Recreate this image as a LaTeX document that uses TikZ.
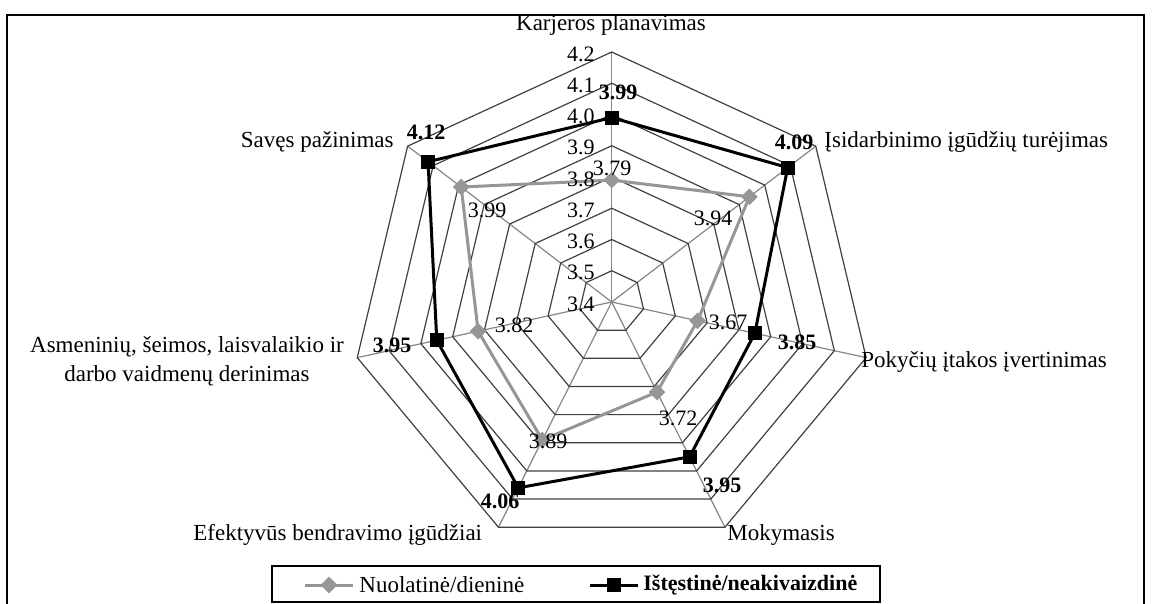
\documentclass[tikz,border=0pt]{standalone}
\usepackage{fontspec}
\setmainfont{Liberation Serif}
\usetikzlibrary{shapes.geometric}
\definecolor{sergray}{RGB}{150,150,150}
\definecolor{ringcol}{RGB}{64,64,64}
\definecolor{spokecol}{RGB}{134,134,134}

\begin{document}
\begin{tikzpicture}[x=0.5pt,y=-0.5pt]
  \tikzset{
    ringline/.style={draw=ringcol,line width=0.6pt},
    spokeline/.style={draw=spokecol,line width=0.6pt},
    grayser/.style={draw=sergray,line width=1.5pt,line join=round},
    blackser/.style={draw=black,line width=1.5pt,line join=round},
    graymark/.style={diamond,fill=sergray,inner sep=0pt,minimum size=8.5pt},
    blackmark/.style={rectangle,fill=black,inner sep=0pt,minimum size=7pt},
    catlab/.style={font=\fontsize{11.5}{14.5}\selectfont,inner sep=0pt},
    ticklab/.style={font=\fontsize{11}{13}\selectfont,inner sep=0pt,anchor=east},
    glab/.style={font=\fontsize{11}{13}\selectfont,inner sep=0pt},
    blab/.style={font=\fontsize{11}{13}\selectfont\bfseries,inner sep=0pt},
  }
  \useasboundingbox (0,0) rectangle (1152,604);
  \draw[line width=1pt] (7,604) -- (7,15) -- (1144,15) -- (1144,604);

  % radar grid and series
  \begin{scope}[shift={(611.7,302)},x=130.5pt,y=125pt]
    \foreach \a [count=\i] in {90,38.571,-12.857,-64.286,-115.714,-167.143,141.429}
      \draw[spokeline] (0,0) -- (\a:1) coordinate (ax\i);
    \foreach \k in {1,...,8}
      \draw[ringline] (90:{\k/8}) \foreach \a in {38.571,-12.857,-64.286,-115.714,-167.143,141.429}{ -- (\a:{\k/8})} -- cycle;
    \foreach \a/\v [count=\i] in {90/3.79,38.571/3.94,-12.857/3.67,-64.286/3.72,-115.714/3.89,-167.143/3.82,141.429/3.99}
      \coordinate (g\i) at (\a:{(\v-3.4)/0.8});
    \foreach \a/\v [count=\i] in {90/3.99,38.571/4.09,-12.857/3.85,-64.286/3.95,-115.714/4.06,-167.143/3.95,141.429/4.12}
      \coordinate (b\i) at (\a:{(\v-3.4)/0.8});
    \draw[grayser] (g1) -- (g2) -- (g3) -- (g4) -- (g5) -- (g6) -- (g7) -- cycle;
    \draw[blackser] (b1) -- (b2) -- (b3) -- (b4) -- (b5) -- (b6) -- (b7) -- cycle;
    \foreach \i in {1,...,7}{
      \node[graymark] (gm\i) at (g\i) {};
      \node[blackmark] (bm\i) at (b\i) {};
    }
  \end{scope}

  % scale
  \foreach \t [count=\k from 0] in {3.4,3.5,3.6,3.7,3.8,3.9,4.0,4.1,4.2}
    \node[ticklab] (t\k) at (595,{304-31.25*\k}) {\t};

  % categories
  \node[catlab] (karj) at (611,25) {Karjeros planavimas};
  \node[catlab,anchor=west] (isid) at (824,142) {Įsidarbinimo įgūdžių turėjimas};
  \node[catlab,anchor=west] (poky) at (861,362) {Pokyčių įtakos įvertinimas};
  \node[catlab,anchor=west] (moky) at (727,535) {Mokymasis};
  \node[catlab,anchor=west] (efek) at (193,535) {Efektyvūs bendravimo įgūdžiai};
  \node[catlab,align=center] (asme) at (187,361) {Asmeninių, šeimos, laisvalaikio ir\\darbo vaidmenų derinimas};
  \node[catlab,anchor=east] (save) at (394,142) {Savęs pažinimas};

  % values
  \node[glab] (gv1) at (612,168) {3.79};
  \node[glab] (gv2) at (713,218) {3.94};
  \node[glab] (gv3) at (728,322) {3.67};
  \node[glab] (gv4) at (678,418) {3.72};
  \node[glab] (gv5) at (548,441) {3.89};
  \node[glab] (gv6) at (514,325) {3.82};
  \node[glab] (gv7) at (487,210) {3.99};
  \node[blab] (bv1) at (618,92) {3.99};
  \node[blab] (bv2) at (794,142) {4.09};
  \node[blab] (bv3) at (797,342) {3.85};
  \node[blab] (bv4) at (722,485) {3.95};
  \node[blab] (bv5) at (500,501) {4.06};
  \node[blab] (bv6) at (392,345) {3.95};
  \node[blab] (bv7) at (426,132) {4.12};

  % legend
  \draw[line width=1pt] (272,566) rectangle (880,602);
  \coordinate (la1) at (305,585);
  \coordinate (lb1) at (353,585);
  \draw[grayser] (la1) -- (lb1);
  \node[graymark] (lm1) at (329,585) {};
  \node[catlab,anchor=west] (lt1) at (359,585) {Nuolatinė/dieninė};
  \coordinate (la2) at (590,585);
  \coordinate (lb2) at (638,585);
  \draw[blackser] (la2) -- (lb2);
  \node[blackmark] (lm2) at (614,585) {};
  \node[catlab,anchor=west,font=\fontsize{11}{13}\selectfont\bfseries] (lt2) at (643,585) {Ištęstinė/neakivaizdinė};
\end{tikzpicture}
\end{document}
